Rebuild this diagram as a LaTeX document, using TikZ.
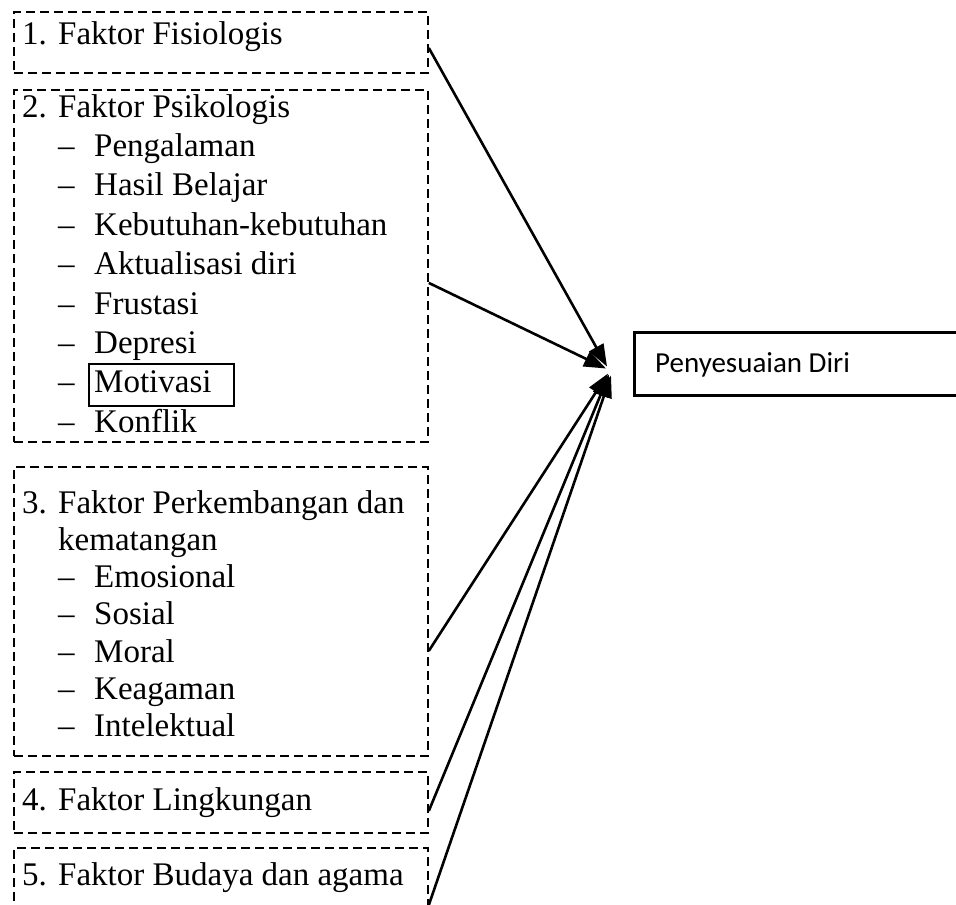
\documentclass[tikz,border=0pt]{standalone}
\usepackage{fontspec}
\setmainfont{Liberation Serif}
\newfontfamily\calibrifont{Carlito}
\usetikzlibrary{arrows.meta}
\frenchspacing
\begin{document}
\begin{tikzpicture}[x=1pt,y=-1pt,
  dbox/.style={draw, dash pattern=on 9pt off 5pt, line width=1.8pt, inner sep=0pt, anchor=north west, minimum width=414pt},
  txt/.style={anchor=base west, inner sep=0pt, font=\fontsize{33}{39}\selectfont},
  arr/.style={line width=2.6pt, -{Triangle[length=22pt,width=16pt]}},
]
\useasboundingbox (0,0) rectangle (956,905);

% dashed boxes
\node[dbox, minimum height=61pt]  (b1) at (13,11)  {};
\node[dbox, minimum height=352pt] (b2) at (13,89)  {};
\node[dbox, minimum height=289pt] (b3) at (13,466) {};
\node[dbox, minimum height=61pt]  (b4) at (13,771) {};
\node[dbox, minimum height=80pt]  (b5) at (13,847) {};

% target box
\node[draw, line width=3pt, anchor=north west, minimum width=332pt, minimum height=63pt, inner sep=0pt] (pd) at (633,331) {};
\node[anchor=base west, inner sep=0pt, font=\calibrifont\fontsize{29}{35}\selectfont] (pdt) at (655,372) {Penyesuaian Diri};

% box 1
\node[txt] (n1) at (22,44) {1.};
\node[txt] (t1) at (58,44) {Faktor Fisiologis};

% box 2
\node[txt] (n2) at (22,117) {2.};
\node[txt] (t2) at (58,117) {Faktor Psikologis};
\foreach \i/\w in {1/Pengalaman,2/Hasil Belajar,3/Kebutuhan-kebutuhan,4/Aktualisasi diri,5/Frustasi,6/Depresi,7/Motivasi,8/Konflik}{
  \node[txt] (d2\i) at (58,117+\i*39.4) {--};
  \node[txt] (w2\i) at (94,117+\i*39.4) {\w};
}
\node[draw, line width=2pt, anchor=north west, minimum width=145pt, minimum height=42pt, inner sep=0pt] (mot) at (88,363) {};

% box 3
\node[txt] (n3) at (22,513) {3.};
\node[txt] (t3) at (58,513) {Faktor Perkembangan dan};
\node[txt] (t3b) at (58,550.3) {kematangan};
\foreach \i/\w in {2/Emosional,3/Sosial,4/Moral,5/Keagaman,6/Intelektual}{
  \node[txt] (d3\i) at (58,513+\i*37.3) {--};
  \node[txt] (w3\i) at (94,513+\i*37.3) {\w};
}

% box 4, 5
\node[txt] (n4) at (22,810) {4.};
\node[txt] (t4) at (58,810) {Faktor Lingkungan};
\node[txt] (n5) at (22,885) {5.};
\node[txt] (t5) at (58,885) {Faktor Budaya dan agama};

% arrows
\draw[arr] ([yshift=-5.5pt]b1.east) -- ([xshift=-26pt,yshift=-2.5pt]pd.west);
\draw[arr] ([yshift=-17pt]b2.east) -- ([xshift=-27pt,yshift=-4.5pt]pd.west);
\draw[arr] ([yshift=-39.5pt]b3.east) -- ([xshift=-25pt,yshift=-9.5pt]pd.west);
\draw[arr] ([yshift=-8.5pt]b4.east) -- ([xshift=-24pt,yshift=-10.5pt]pd.west);
\draw[arr] ([yshift=-58pt]b5.north east) -- ([xshift=-22pt,yshift=-11.5pt]pd.west);
\end{tikzpicture}
\end{document}
